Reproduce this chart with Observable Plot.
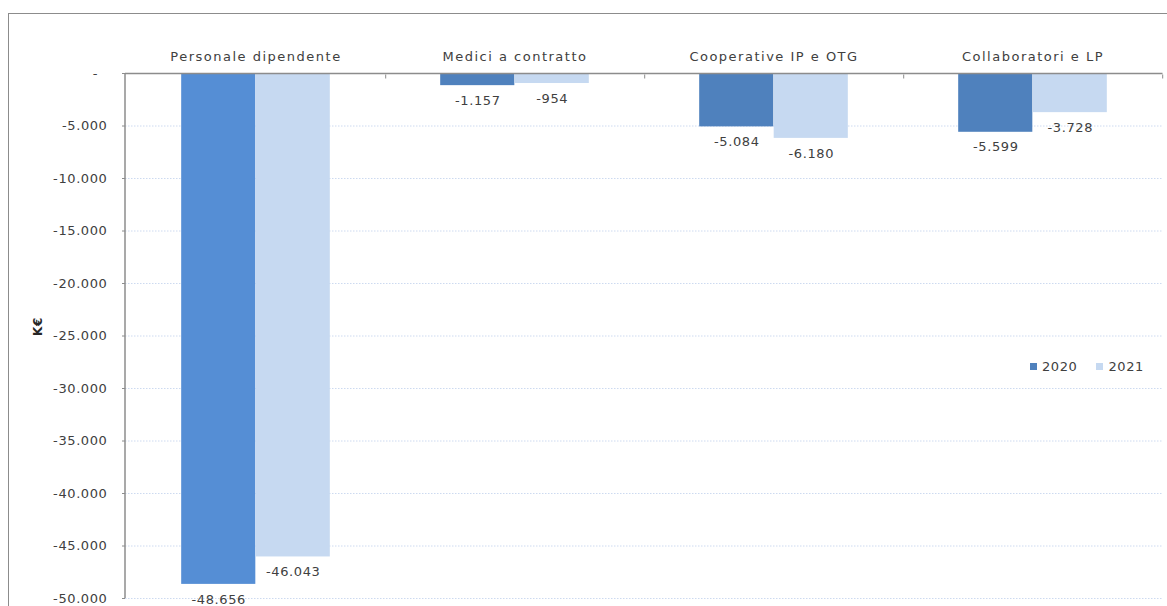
<!DOCTYPE html>
<html><head><meta charset="utf-8">
<script src="https://cdn.jsdelivr.net/npm/d3@7"></script>
<script src="https://cdn.jsdelivr.net/npm/@observablehq/plot@0.6"></script>
<style>
html,body{margin:0;padding:0;background:#fff;overflow:hidden;}
#wrap{position:relative;width:1167px;height:606px;}
#frame{position:absolute;left:8px;top:12.5px;width:1300px;height:800px;border-top:1.5px solid #8c8c8c;border-left:1.5px solid #8c8c8c;pointer-events:none;box-sizing:border-box;}
#legend{position:absolute;left:1030px;top:359px;font-family:"DejaVu Sans",sans-serif;font-size:13px;color:#404040;letter-spacing:0.6px;display:flex;align-items:center;}
#legend .item{display:flex;align-items:center;margin-right:19px;}
#legend .sw{width:7px;height:7px;margin-right:5px;}
svg{position:absolute;left:0;top:0;}
</style></head><body><div id="wrap"><div id="frame"></div><div id="legend"></div></div>
<script>
// ---- data ----
const categories = ["Personale dipendente", "Medici a contratto", "Cooperative IP e OTG", "Collaboratori e LP"];
const years = ["2020", "2021"];
const values2020 = [-48656, -1157, -5084, -5599];
const values2021 = [-46043, -954, -6180, -3728];
const yTicks = [0, -5000, -10000, -15000, -20000, -25000, -30000, -35000, -40000, -45000, -50000];
const yLabel = "K€";

// ---- styles ----
const colors2020 = ["#558ED5", "#4F81BD", "#4F81BD", "#4F81BD"];
const color2020 = "#4F81BD";
const color2021 = "#C6D9F1";
const axisColor = "#8c8c8c";
const textColor = "#404040";

const W = 1167, H = 606, mL = 125, mR = 4.5, mT = 73, mB = 8;
const bandW = (W - mL - mR) / categories.length;
const barW = 74.5;

const fmt = d3.formatLocale({decimal: ",", thousands: ".", grouping: [3], currency: ["", "€"], minus: "-"}).format(",");
const tickFmt = d => d === 0 ? "-\u00a0\u00a0" : fmt(d);

const data2020 = categories.map((c, i) => ({cat: c, year: years[0], value: values2020[i], color: colors2020[i]}));
const data2021 = categories.map((c, i) => ({cat: c, year: years[1], value: values2021[i], color: color2021}));

function yAxisLine(index, scales, values, dimensions) {
  const y = scales.y;
  const line = d3.create("svg:line")
    .attr("x1", dimensions.marginLeft).attr("x2", dimensions.marginLeft)
    .attr("y1", y(0)).attr("y2", y(d3.min(yTicks)))
    .attr("stroke", axisColor).attr("stroke-width", 1.5);
  return line.node();
}

const chart = Plot.plot({
  width: W, height: H,
  marginLeft: mL, marginRight: mR, marginTop: mT, marginBottom: mB,
  style: {fontFamily: "DejaVu Sans, sans-serif", fontSize: "13px", color: textColor, background: "transparent", letterSpacing: "0.6px"},
  x: {domain: categories, padding: 0, label: null, axis: null},
  y: {domain: [d3.min(yTicks), 0], label: null, axis: null},
  marks: [
    Plot.gridY(yTicks.filter(d => d !== 0), {stroke: "#cddaf0", strokeOpacity: 1, strokeDasharray: "1.5,1.5"}),
    Plot.barY(data2020, {x: "cat", y: "value", fill: "color", insetLeft: bandW / 2 - barW, insetRight: bandW / 2}),
    Plot.barY(data2021, {x: "cat", y: "value", fill: "color", insetLeft: bandW / 2, insetRight: bandW / 2 - barW}),
    Plot.text(data2020, {x: "cat", y: "value", text: d => fmt(d.value), dx: -barW / 2, dy: 15, fill: textColor}),
    Plot.text(data2021, {x: "cat", y: "value", text: d => fmt(d.value), dx: barW / 2, dy: 15, fill: textColor}),
    Plot.ruleY([0], {stroke: axisColor, strokeWidth: 1.5}),
    yAxisLine,
    Plot.axisY(yTicks, {tickFormat: tickFmt, tickSize: 3, tickPadding: 15, stroke: axisColor, strokeOpacity: 1, fill: textColor, label: null}),
    Plot.axisX({anchor: "top", tickSize: 0, tickPadding: 13, label: null, fill: textColor}),
    Plot.axisX({anchor: "top", tickSize: 4, dy: 4.5, dx: bandW / 2, tickFormat: () => "", stroke: axisColor, strokeOpacity: 1, label: null}),
    Plot.text([yLabel], {text: d => d, frameAnchor: "left", dx: -87, rotate: -90, fontWeight: "bold", fontSize: 12, fill: "#262626"})
  ]
});
document.getElementById("wrap").appendChild(chart);
d3.select(chart).selectAll('g[aria-label="x-axis tick label"] text').style("letter-spacing", "1.5px");

const legend = document.getElementById("legend");
[[years[0], color2020], [years[1], color2021]].forEach(([y, c]) => {
  const it = document.createElement("div"); it.className = "item";
  const sw = document.createElement("div"); sw.className = "sw"; sw.style.background = c;
  const tx = document.createElement("span"); tx.textContent = y;
  it.appendChild(sw); it.appendChild(tx); legend.appendChild(it);
});
</script>
</body></html>
